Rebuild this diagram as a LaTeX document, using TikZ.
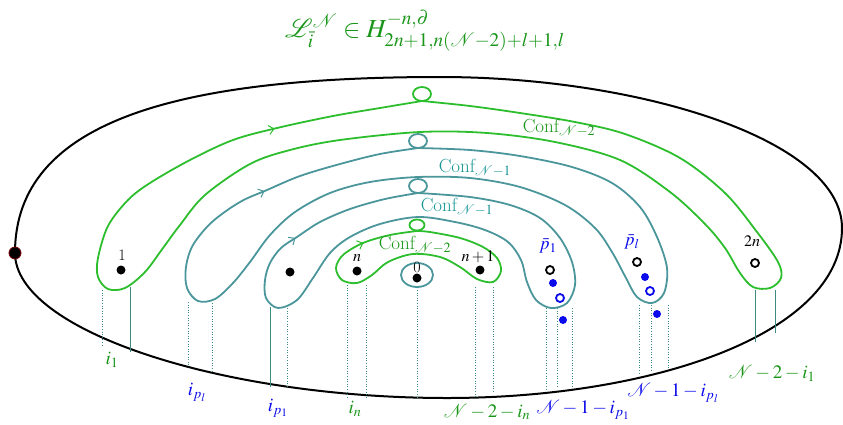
\documentclass[tikz,border=0pt]{standalone}
\usepackage{mathptmx}
\usetikzlibrary{decorations.markings,arrows.meta}
\definecolor{cgreen}{RGB}{45,190,45}
\definecolor{cteal}{RGB}{75,150,155}
\definecolor{lgreen}{RGB}{25,150,25}
\definecolor{lteal}{RGB}{25,150,150}
\definecolor{dblue}{RGB}{10,10,235}
\definecolor{proj}{RGB}{60,140,130}
\begin{document}
\begin{tikzpicture}[x=1pt,y=-1pt,
  curveG/.style={draw=cgreen,line width=1.8pt},
  curveT/.style={draw=cteal,line width=1.8pt},
  arrowat/.style={postaction={decorate},decoration={markings,mark=at position #1 with {\arrow{Straight Barb[length=5pt,width=9pt,line width=1pt]}}}},
  projdot/.style={draw=proj,line width=0.6pt,dotted},
  projsolid/.style={draw=proj,line width=0.6pt},
  conflab/.style={font=\fontsize{19}{21}\selectfont},
  ptlab/.style={font=\fontsize{16}{18}\selectfont,inner sep=0pt},
  botlab/.style={font=\fontsize{19}{22}\selectfont\boldmath,inner sep=0pt},
  blackdot/.style={fill=black},
  opendot/.style={draw=black,line width=1.8pt},
]
\useasboundingbox (0,0) rectangle (843,424);

% title
\node[text=lgreen,font=\fontsize{26}{30}\selectfont] (title) at (425,31)
  {$\mathcal{L}^{\mathcal{N}}_{\bar{i}} \in H^{-n,\partial}_{2n+1,n(\mathcal{N}-2)+l+1,l}$};

% outer disc boundary
\draw[line width=2pt] (15,253) .. controls (15,120) and (180,77) .. (440,77)
  .. controls (640,77) and (842,140) .. (842,228)
  .. controls (842,335) and (650,398) .. (447,398)
  .. controls (220,398) and (15,330) .. (15,253) -- cycle;
\fill[black,draw=black!55!red,line width=0.8pt] (15,253) circle[radius=6pt];

% projection lines
\draw[projdot] (102,290) -- (102,345);
\draw[projsolid] (130,287) -- (130,352);
\draw[projdot] (188,302) -- (188,367);
\draw[projdot] (212,303) -- (212,371);
\draw[projsolid] (270,307) -- (270,387);
\draw[projdot] (287,308) -- (287,387);
\draw[projdot] (347,285) -- (347,397);
\draw[projdot] (366,285) -- (366,397);
\draw[projdot] (417,290) -- (417,397);
\draw[projdot] (475,287) -- (475,397);
\draw[projdot] (493,287) -- (493,393);
\draw[projdot] (546,308) -- (546,390);
\draw[projdot] (557,308) -- (557,388);
\draw[projdot] (572,308) -- (572,387);
\draw[projdot] (639,305) -- (639,375);
\draw[projdot] (651,305) -- (651,372);
\draw[projdot] (668,305) -- (668,368);
\draw[projsolid] (755,290) -- (755,342);
\draw[projsolid] (775,290) -- (775,333);

% curve 1 (green, outermost)
\draw[curveG,arrowat=-150pt] plot[smooth,tension=0.55] coordinates {
 (422,101) (470,106) (520,113) (575,122) (625,134) (680,158) (725,193)
 (757,232) (778,262) (781,278) (770,288) (753,287) (740,273) (725,248)
 (705,224) (670,192) (620,160) (555,142) (487,133) (420,132) (340,140)
 (290,150) (250,164) (205,195) (180,225) (163,248) (145,272) (125,288)
 (108,289) (98,277) (98,258) (108,226) (128,200) (150,183) (190,160)
 (233,140) (277,128) (333,116) (380,108) (422,101)};
\draw[curveG] (422,94) ellipse[x radius=9pt,y radius=7pt];

% curve 2 (teal)
\draw[curveT,arrowat=-160pt] plot[smooth,tension=0.55] coordinates {
 (418,148) (470,150) (520,156) (572,167) (612,183) (640,207) (657,237)
 (667,268) (664,293) (652,303) (637,297) (626,278) (612,252) (595,228)
 (565,205) (520,187) (470,178) (418,177) (370,182) (330,193) (295,212)
 (270,235) (250,262) (233,283) (215,299) (198,301) (187,288) (186,267)
 (193,245) (212,222) (240,202) (267,190) (300,176) (340,164) (380,154)
 (418,148)};
\draw[curveT] (418,141) ellipse[x radius=9pt,y radius=7pt];

% curve 3 (teal)
\draw[curveT,arrowat=-132pt] plot[smooth,tension=0.55] coordinates {
 (418,193) (470,197) (510,205) (540,218) (560,238) (572,262) (575,285)
 (567,303) (551,308) (536,300) (527,282) (521,260) (508,242) (485,230)
 (455,222) (418,217) (380,224) (350,237) (330,253) (313,278) (297,300)
 (278,308) (266,298) (265,280) (270,263) (281,248) (297,237) (320,222)
 (350,209) (385,199) (418,193)};
\draw[curveT] (418,186) ellipse[x radius=9pt,y radius=7pt];

% curve 4 (green, innermost)
\draw[curveG,arrowat=-55pt] plot[smooth,tension=0.55] coordinates {
 (417,231) (430,232) (460,238) (483,247) (497,258) (501,271) (493,282)
 (477,279) (460,267) (440,257) (413,254) (388,262) (372,275) (357,283)
 (342,280) (336,268) (343,255) (363,243) (390,235) (417,231)};
\draw[curveG] (417,225) ellipse[x radius=7.5pt,y radius=5.5pt];

% circle around 0
\draw[curveT] (417,275) ellipse[x radius=16pt,y radius=12pt];

% labels Conf
\node[conflab,text=lgreen] (conf1) at (559,128) {Conf$_{\mathcal{N}-2}$};
\node[conflab,text=lteal] (conf2) at (475,168) {Conf$_{\mathcal{N}-1}$};
\node[conflab,text=lteal] (conf3) at (457,207) {Conf$_{\mathcal{N}-1}$};
\node[conflab,text=lgreen] (conf4) at (415,245) {Conf$_{\mathcal{N}-2}$};

% points
\fill[blackdot] (121,270) circle[radius=4.5pt];
\fill[blackdot] (290,272) circle[radius=4.5pt];
\fill[blackdot] (357,271) circle[radius=4.5pt];
\fill[blackdot] (480,270) circle[radius=4.5pt];
\fill[blackdot] (417,278) circle[radius=4.5pt];
\draw[opendot] (550,270) circle[radius=4pt];
\draw[opendot] (637,262) circle[radius=4pt];
\draw[opendot] (755,263) circle[radius=4pt];
\fill[dblue] (553,283) circle[radius=4pt];
\fill[dblue] (563,320) circle[radius=4pt];
\fill[dblue] (645,277) circle[radius=4pt];
\fill[dblue] (657,314) circle[radius=4pt];
\draw[dblue,line width=1.8pt] (560,298) circle[radius=4pt];
\draw[dblue,line width=1.8pt] (650,291) circle[radius=4pt];

% point labels
\node[ptlab] (l1) at (122,255) {1};
\node[ptlab] (ln) at (357,258) {$n$};
\node[ptlab] (l0) at (417,267) {0};
\node[ptlab] (lnp) at (478,257) {$n+1$};
\node[ptlab] (l2n) at (752,241) {$2n$};
\node[ptlab,text=dblue,font=\fontsize{18}{20}\selectfont] (lp1) at (548,246) {$\bar{p}_1$};
\node[ptlab,text=dblue,font=\fontsize{18}{20}\selectfont] (lpl) at (632,242) {$\bar{p}_l$};

% bottom labels
\node[botlab,text=lgreen] (b1) at (112,360) {$i_1$};
\node[botlab,text=dblue] (b2) at (197,392) {$i_{p_l}$};
\node[botlab,text=dblue] (b3) at (278,408) {$i_{p_1}$};
\node[botlab,text=lgreen] (b4) at (355,409) {$i_n$};
\node[botlab,text=lgreen] (b5) at (487,412) {$\mathcal{N}-2-i_n$};
\node[botlab,text=dblue] (b6) at (583,410) {$\mathcal{N}-1-i_{p_1}$};
\node[botlab,text=dblue] (b7) at (673,393) {$\mathcal{N}-1-i_{p_l}$};
\node[botlab,text=lgreen] (b8) at (772,373) {$\mathcal{N}-2-i_1$};
\end{tikzpicture}
\end{document}
